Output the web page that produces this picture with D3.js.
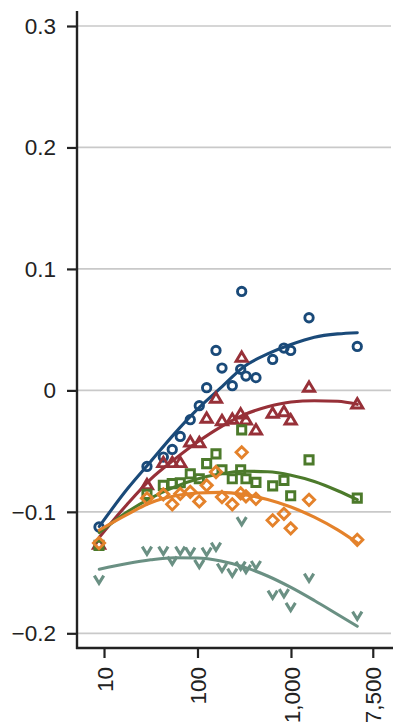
<!DOCTYPE html>
<html>
<head>
<meta charset="utf-8">
<script src="https://cdn.jsdelivr.net/npm/d3@7"></script>
<style>
  html, body { margin: 0; padding: 0; background: #fff; }
  svg { display: block; }
  text { font-family: "Liberation Sans", Arial, Helvetica, sans-serif; fill: #222; }
</style>
</head>
<body>
<svg id="chart" width="393" height="723"></svg>
<script>
// ---------- data ----------
const xValues = [8.84, 28.8, 43.1, 53.7, 65.4, 83.7, 104.5, 125.3, 157.7, 182.8, 235.6, 289.6, 297, 330, 422, 637, 841, 993, 1560, 5117];

const blueValues   = [-0.1125, -0.0626, -0.0549, -0.0486, -0.0379, -0.0241, -0.0126, 0.0022, 0.0329, 0.0184, 0.0039, 0.0173, 0.0815, 0.0118, 0.0105, 0.0255, 0.0348, 0.0329, 0.0598, 0.0362];
const redValues    = [-0.127, -0.078, -0.0598, -0.0598, -0.0598, -0.0428, -0.0434, -0.0233, -0.0068, -0.0253, -0.0241, -0.0198, 0.0269, -0.0247, -0.0329, -0.0192, -0.0179, -0.0247, 0.0022, -0.0115];
const greenValues  = [-0.1276, -0.0856, -0.0782, -0.0768, -0.0761, -0.0687, -0.0727, -0.0603, -0.0523, -0.0654, -0.0728, -0.0654, -0.0325, -0.0728, -0.0757, -0.0786, -0.0741, -0.0868, -0.0572, -0.0887];
const orangeValues = [-0.1257, -0.0889, -0.0856, -0.0938, -0.0852, -0.0835, -0.0914, -0.0782, -0.0672, -0.0878, -0.0938, -0.0848, -0.0510, -0.0872, -0.0893, -0.1070, -0.1016, -0.1136, -0.0901, -0.1230];
const greyValues   = [-0.1556, -0.1317, -0.1317, -0.1399, -0.1317, -0.1325, -0.1426, -0.1325, -0.1284, -0.1457, -0.1498, -0.1440, -0.1074, -0.1467, -0.1435, -0.1679, -0.1667, -0.1780, -0.1539, -0.1852];

// fitted curves
const curveX      = [8.9, 17.8, 31.6, 56.2, 100, 178, 316, 562, 1000, 1778, 3162, 5117];
const blueCurve   = [-0.112, -0.081, -0.0585, -0.036, -0.0155, 0.0022, 0.0197, 0.030, 0.0378, 0.0438, 0.0465, 0.0475];
const redCurve    = [-0.121, -0.0935, -0.073, -0.057, -0.0425, -0.030, -0.020, -0.0135, -0.0095, -0.0085, -0.009, -0.0115];
const greenCurve  = [-0.117, -0.100, -0.0887, -0.0796, -0.0729, -0.0686, -0.0666, -0.0670, -0.0698, -0.0750, -0.0826, -0.0900];
const orangeCurve = [-0.115, -0.102, -0.0925, -0.087, -0.0845, -0.0840, -0.0858, -0.0898, -0.0960, -0.1044, -0.1149, -0.1255];
const greyCurve   = [-0.1472, -0.1425, -0.1395, -0.1378, -0.1380, -0.1405, -0.1455, -0.1528, -0.1622, -0.1730, -0.1845, -0.1942];

const yTicks = [0.3, 0.2, 0.1, 0, -0.1, -0.2];
const yTickLabels = ["0.3", "0.2", "0.1", "0", "\u22120.1", "\u22120.2"];
const xTicks = [10, 100, 1000, 7500];
const xTickLabels = ["10", "100", "1,000", "7,500"];

// ---------- layout ----------
const svg = d3.select("#chart");
const plotLeft = 77, plotRight = 391, plotTop = 11, plotBottom = 648;

const x = d3.scaleLog().domain([5.14, 11750]).range([plotLeft, plotRight]);
const y = d3.scaleLinear().domain([-0.2, 0.3]).range([633.3, 26]);

const series = [
  { vals: blueValues,   curve: blueCurve,   color: "#1a4a79", shape: "circle" },
  { vals: redValues,    curve: redCurve,    color: "#973038", shape: "triangle" },
  { vals: greenValues,  curve: greenCurve,  color: "#4c7a2b", shape: "square" },
  { vals: orangeValues, curve: orangeCurve, color: "#e4822b", shape: "diamond" },
  { vals: greyValues,   curve: greyCurve,   color: "#6a9083", shape: "v" }
];

// gridlines
svg.append("g").selectAll("line").data(yTicks).join("line")
  .attr("x1", plotLeft).attr("x2", plotRight)
  .attr("y1", d => y(d)).attr("y2", d => y(d))
  .attr("stroke", "#c9c9c9").attr("stroke-width", 1.7);

// y axis
const yAxis = d3.axisLeft(y).tickValues(yTicks).tickSize(10).tickPadding(11)
  .tickFormat((d, i) => yTickLabels[i]);
const gy = svg.append("g").attr("transform", `translate(${plotLeft},0)`).call(yAxis);
gy.select(".domain").remove();
gy.selectAll(".tick line").attr("stroke", "#222").attr("stroke-width", 2.2);
gy.selectAll(".tick text").attr("font-size", 22.5).attr("fill", "#222")
  .style("font-family", '"Liberation Sans", Arial, sans-serif');

// x axis
const xAxis = d3.axisBottom(x).tickValues(xTicks).tickSize(10).tickPadding(0)
  .tickFormat((d, i) => xTickLabels[i]);
const gx = svg.append("g").attr("transform", `translate(0,${plotBottom})`).call(xAxis);
gx.select(".domain").remove();
gx.selectAll(".tick line").attr("stroke", "#222").attr("stroke-width", 2.2);
gx.selectAll(".tick text").attr("font-size", 22.5).attr("fill", "#222")
  .style("font-family", '"Liberation Sans", Arial, sans-serif')
  .attr("text-anchor", "end")
  .attr("transform", "translate(0,19) rotate(-90)")
  .attr("x", 0).attr("y", 0).attr("dy", "0.36em");

// axis lines
svg.append("line").attr("x1", plotLeft).attr("x2", plotLeft).attr("y1", plotTop).attr("y2", plotBottom + 1)
  .attr("stroke", "#222").attr("stroke-width", 2.4);
svg.append("line").attr("x1", plotLeft - 1).attr("x2", plotRight + 2).attr("y1", plotBottom).attr("y2", plotBottom)
  .attr("stroke", "#222").attr("stroke-width", 2.4);

// marker shapes
function markerPath(shape) {
  switch (shape) {
    case "circle":   return "M4.2,0A4.2,4.2 0 1,1 -4.2,0A4.2,4.2 0 1,1 4.2,0Z";
    case "triangle": return "M0,-5.8L5.6,3.6L-5.6,3.6Z";
    case "square":   return "M-4.1,-4.1H4.1V4.1H-4.1Z";
    case "diamond":  return "M0,-5.6L5.6,0L0,5.6L-5.6,0Z";
    case "v":        return "M-4.7,-3.7L0,3.9L4.7,-3.7";
  }
}

const line = d3.line().x(d => x(d[0])).y(d => y(d[1])).curve(d3.curveMonotoneX);

series.forEach(s => {
  const g = svg.append("g");
  g.selectAll("path.m").data(s.vals.map((v, i) => [xValues[i], v])).join("path")
    .attr("class", "m")
    .attr("transform", d => `translate(${x(d[0])},${y(d[1])})`)
    .attr("d", markerPath(s.shape))
    .attr("fill", "none")
    .attr("stroke", s.color)
    .attr("stroke-width", s.shape === "v" ? 3.1 : 2.9)
    .attr("stroke-linejoin", "miter");
  g.append("path")
    .datum(s.curve.map((v, i) => [curveX[i], v]))
    .attr("d", line)
    .attr("fill", "none")
    .attr("stroke", s.color)
    .attr("stroke-width", 3.1)
    .attr("stroke-linecap", "round");
});
</script>
</body>
</html>
